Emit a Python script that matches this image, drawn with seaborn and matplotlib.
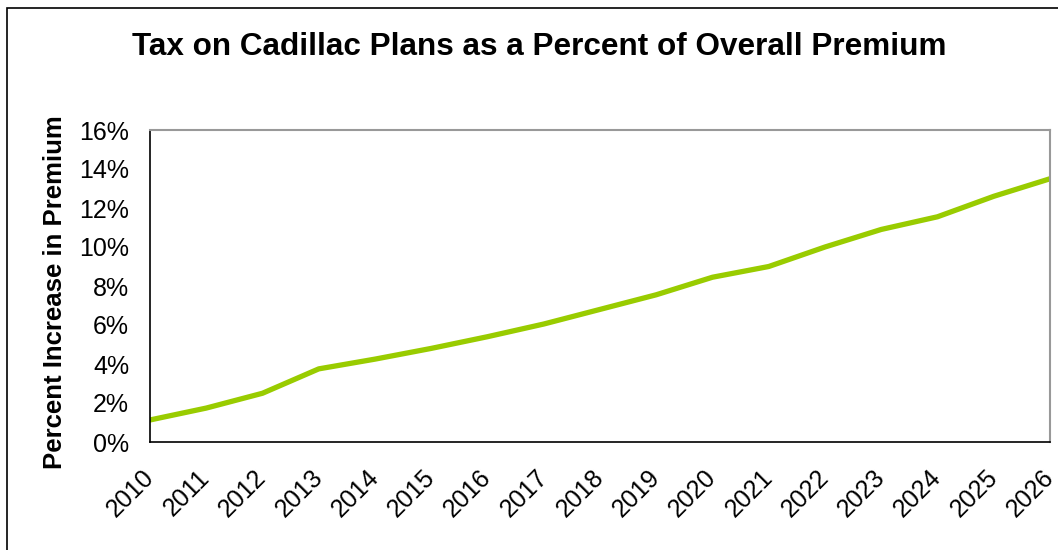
import seaborn as sns
import matplotlib.pyplot as plt
import pandas as pd
from matplotlib.patches import Rectangle
from matplotlib.ticker import FuncFormatter

# data
years = list(range(2010, 2027))
pct = [1.13, 1.74, 2.5, 3.75, 4.25, 4.8, 5.4, 6.05, 6.8, 7.55,
       8.45, 9.0, 10.0, 10.9, 11.55, 12.6, 13.5]

df = pd.DataFrame({"year": years, "pct": pct})

sns.set_style("white")
plt.rcParams['font.family'] = ['Liberation Sans', 'DejaVu Sans']
plt.rcParams['text.color'] = 'black'
plt.rcParams['axes.labelcolor'] = 'black'
plt.rcParams['xtick.color'] = 'black'
plt.rcParams['ytick.color'] = 'black'

fig = plt.figure(figsize=(10.58, 5.5), dpi=100)
ax = fig.add_axes([150 / 1058, 1 - 442 / 550, 900 / 1058, 312 / 550])

sns.lineplot(data=df, x="year", y="pct", color="#99CC00", linewidth=3.8, ax=ax)

ax.set_xlim(2010, 2026)
ax.set_ylim(0, 16)
ax.set_yticks(range(0, 17, 2))
ax.yaxis.set_major_formatter(FuncFormatter(lambda v, p: f"{int(v)}%"))
ax.set_xticks(years)
ax.set_xticklabels([str(y) for y in years], rotation=45, ha="right", va="center",
                   rotation_mode="anchor", fontsize=18)
ax.tick_params(axis="y", labelsize=18, direction="inout", length=14, width=1, pad=8)
ax.tick_params(axis="x", direction="inout", length=14, width=1, pad=16)

for s in ["left", "bottom"]:
    ax.spines[s].set_color("black")
    ax.spines[s].set_linewidth(1.2)
for s in ["top", "right"]:
    ax.spines[s].set_color("#999999")
    ax.spines[s].set_linewidth(1.5)

ax.set_xlabel("")
ax.set_ylabel("")
fig.text(55 / 1058, 1 - 292 / 550, "Percent Increase in Premium", rotation=90,
         ha="center", va="center", fontsize=18.5, fontweight="bold")

fig.text(539 / 1058, 1 - 47 / 550, "Tax on Cadillac Plans as a Percent of Overall Premium",
         ha="center", va="center", fontsize=22.7, fontweight="bold")

# outer chart frame (cropped at right and bottom)
fig.patches.append(Rectangle((7 / 1058, -0.1), 1.2, 1 - 8 / 550 + 0.1,
                             transform=fig.transFigure, fill=False,
                             edgecolor="black", linewidth=1.2))

fig.savefig("out.png", dpi=100)
